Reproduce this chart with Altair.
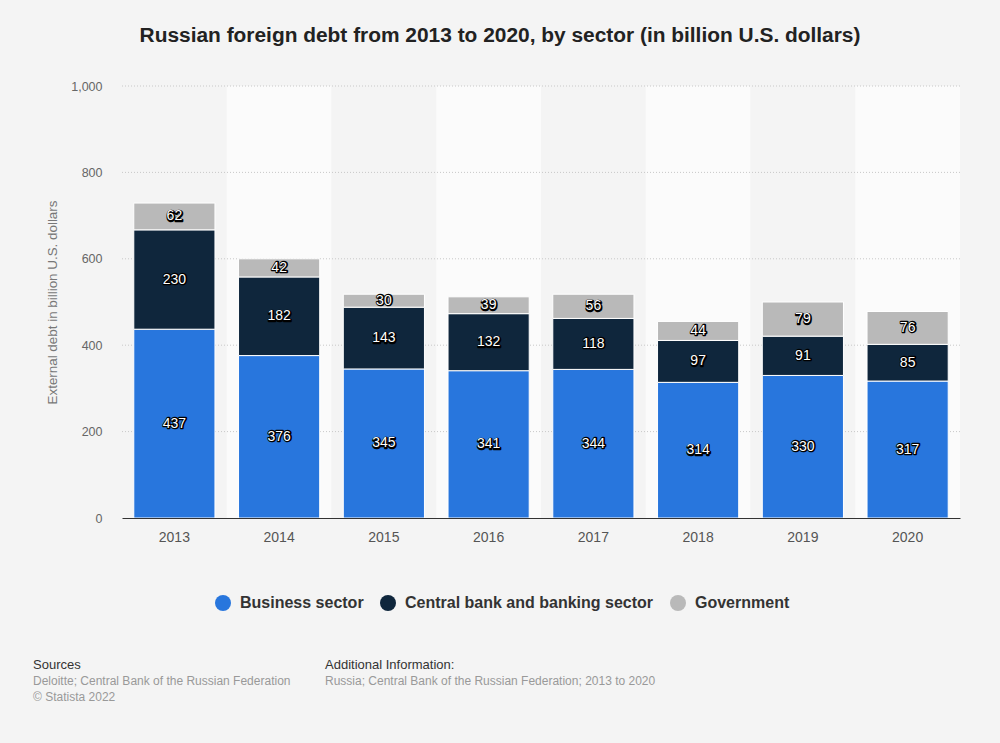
import altair as alt
import pandas as pd

years = ["2013", "2014", "2015", "2016", "2017", "2018", "2019", "2020"]
business = [437, 376, 345, 341, 344, 314, 330, 317]
central = [230, 182, 143, 132, 118, 97, 91, 85]
government = [62, 42, 30, 39, 56, 44, 79, 76]
sectors = ["Business sector", "Central bank and banking sector", "Government"]
colors = ["#2876dd", "#0f263c", "#b9b9b9"]
y_ticks = [0, 200, 400, 600, 800, 1000]

rows = []
for i, yr in enumerate(years):
    for k, (s, vals) in enumerate(zip(sectors, [business, central, government])):
        rows.append({"year": yr, "sector": s, "value": vals[i], "order": k})
df = pd.DataFrame(rows)

bands = pd.DataFrame({"year": years, "light": [i % 2 == 1 for i in range(len(years))]})
grid = pd.DataFrame({"v": y_ticks[1:]})

FONT = "Liberation Sans"
W, H = 838, 432

xenc = alt.X("year:N", sort=years, scale=alt.Scale(paddingInner=0, paddingOuter=0),
             axis=alt.Axis(title=None, ticks=False, labelPadding=12, labelFontSize=14,
                           labelColor="#555555", labelFont=FONT, domainColor="#333333",
                           domainWidth=1, labelAngle=0))
yscale = alt.Scale(domain=[0, 1000])
yaxis = alt.Axis(values=y_ticks, labelExpr="format(datum.value, ',')", grid=False,
                 ticks=False, domain=False,
                 labelPadding=20, labelFontSize=12.5, labelColor="#666666", labelFont=FONT,
                 title="External debt in billion U.S. dollars", titleFont=FONT,
                 titleFontSize=13.4, titleFontWeight="normal", titleColor="#777777",
                 titlePadding=11)

band_layer = alt.Chart(bands).mark_rect().encode(
    x=xenc,
    y=alt.value(0), y2=alt.value(H),
    color=alt.condition("datum.light", alt.value("#fbfbfb"), alt.value("#f4f4f4")),
)

grid_layer = alt.Chart(grid).mark_rule(color="#c8c8c8", strokeDash=[1, 2], strokeWidth=1).encode(
    y=alt.Y("v:Q", scale=yscale, axis=yaxis),
    x=alt.value(0), x2=alt.value(W),
)

bars = alt.Chart(df).mark_bar(stroke="white", strokeWidth=1, width=alt.RelativeBandSize(0.775)).encode(
    x=alt.X("year:N", sort=years),
    y=alt.Y("value:Q", stack="zero", scale=yscale, axis=yaxis),
    color=alt.Color("sector:N", sort=sectors, scale=alt.Scale(domain=sectors, range=colors),
                    legend=alt.Legend(title=None, orient="none", direction="horizontal",
                                      legendX=93, legendY=509, symbolType="circle",
                                      symbolSize=256, symbolStrokeWidth=0, labelFont=FONT,
                                      labelFontSize=16, labelFontWeight="bold", labelLimit=0,
                                      labelColor="#333333", labelOffset=9, columnPadding=16)),
    order=alt.Order("order:Q"),
)

lab_base = alt.Chart(df).transform_stack(
    stack="value", groupby=["year"], as_=["y0", "y1"], sort=[alt.SortField("order")]
).transform_calculate(mid="(datum.y0 + datum.y1) / 2")

lab_halo = lab_base.mark_text(font=FONT, fontSize=14, color="black", stroke="black",
                              strokeWidth=2.5, strokeJoin="round", dx=0.5, dy=0.5).encode(
    x=alt.X("year:N", sort=years), y=alt.Y("mid:Q", scale=yscale, axis=yaxis), text="value:Q")
lab_text = lab_base.mark_text(font=FONT, fontSize=14, color="white").encode(
    x=alt.X("year:N", sort=years), y=alt.Y("mid:Q", scale=yscale, axis=yaxis), text="value:Q")

ann = pd.DataFrame({"t": [0]})
def txt(s, x, y, size, color, weight="normal", align="left"):
    return alt.Chart(ann).mark_text(text=s, font=FONT, fontSize=size, color=color,
                                    fontWeight=weight, align=align, baseline="middle").encode(
        x=alt.value(x), y=alt.value(y))

title = txt("Russian foreign debt from 2013 to 2020, by sector (in billion U.S. dollars)",
            500 - 122, 36 - 86, 20.9, "#222222", "bold", "center")
f1 = txt("Sources", 33 - 122, 665 - 86, 13, "#333333")
f2 = txt("Deloitte; Central Bank of the Russian Federation", 33 - 122, 681 - 86, 12, "#999999")
f3 = txt("© Statista 2022", 33 - 122, 697 - 86, 12, "#999999")
f4 = txt("Additional Information:", 325 - 122, 665 - 86, 13, "#333333")
f5 = txt("Russia; Central Bank of the Russian Federation; 2013 to 2020", 325 - 122, 681 - 86, 12, "#999999")

chart = alt.layer(band_layer, grid_layer, bars, lab_halo, lab_text, title, f1, f2, f3, f4, f5).properties(
    width=W, height=H, background="#f4f4f4",
    padding={"left": 122, "top": 86, "right": 40, "bottom": 225},
    autosize=alt.AutoSizeParams(type="none"),
).configure_view(strokeWidth=0)

chart.save("out.html", embed_options={"renderer": "svg", "actions": False})
